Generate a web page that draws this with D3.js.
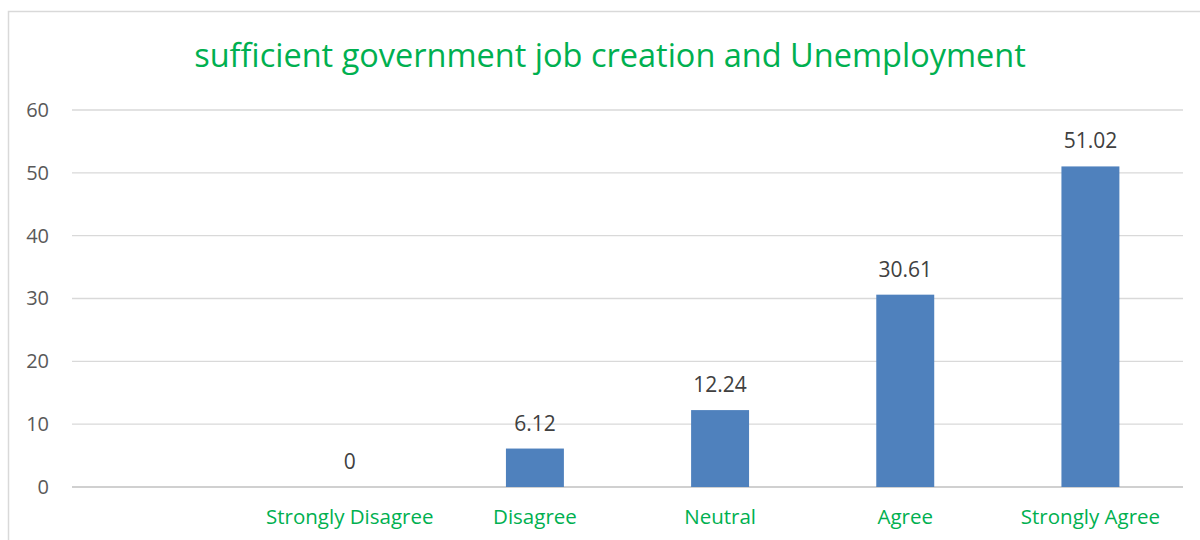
<!DOCTYPE html>
<html lang="en">
<head>
  <meta charset="UTF-8">
  <script src="https://cdn.jsdelivr.net/npm/d3@7"></script>
  <style>
    body { margin: 0; background: #fff; }
    text { font-family: "Open Sans", "Noto Sans", sans-serif; }
  </style>
</head>
<body>
<div id="container"></div>
<script>
// Chart data
const title = "sufficient government job creation and Unemployment";
const categories = ["", "Strongly Disagree", "Disagree", "Neutral", "Agree", "Strongly Agree"];
const values = [null, 0, 6.12, 12.24, 30.61, 51.02];
const yTicks = [0, 10, 20, 30, 40, 50, 60];

const width = 1200;
const height = 540;
const margin = {top: 110, right: 17, bottom: 53, left: 72};

const svg = d3.create("svg")
    .attr("width", width)
    .attr("height", height);

// outer chart border
svg.append("rect")
    .attr("x", 8.5)
    .attr("y", 11.5)
    .attr("width", 1200)
    .attr("height", 540)
    .attr("fill", "#fff")
    .attr("stroke", "#d9d9d9")
    .attr("stroke-width", 1.5);

const x = d3.scaleBand()
    .domain(categories)
    .range([margin.left, width - margin.right])
    .paddingInner(0.687)
    .paddingOuter(0.3435);

const y = d3.scaleLinear()
    .domain([0, 60])
    .range([height - margin.bottom, margin.top]);

// gridlines
svg.append("g")
  .selectAll("line")
  .data(yTicks)
  .join("line")
    .attr("x1", margin.left)
    .attr("x2", width - margin.right)
    .attr("y1", d => y(d))
    .attr("y2", d => y(d))
    .attr("stroke", d => d === 0 ? "#d0d0d0" : "#d9d9d9")
    .attr("stroke-width", d => d === 0 ? 2.2 : 1.4);

// y axis labels
const yAxis = svg.append("g")
    .attr("transform", `translate(${margin.left},0)`)
    .call(d3.axisLeft(y).tickValues(yTicks).tickSize(0).tickPadding(23));
yAxis.select(".domain").remove();
yAxis.selectAll("text")
    .attr("fill", "#595959")
    .style("font-size", "20px")
    .style("font-family", "'Open Sans', sans-serif");

// x axis labels
const xAxis = svg.append("g")
    .attr("transform", `translate(0,${y(0)})`)
    .call(d3.axisBottom(x).tickSize(0).tickPadding(22));
xAxis.select(".domain").remove();
xAxis.selectAll("text")
    .attr("fill", "#00b050")
    .style("font-size", "20.5px")
    .style("font-family", "'Open Sans', sans-serif");

const rows = categories.map((c, i) => ({c, v: values[i]})).filter(d => d.v !== null);

// bars
svg.append("g")
  .selectAll("rect")
  .data(rows)
  .join("rect")
    .attr("x", d => x(d.c))
    .attr("width", x.bandwidth())
    .attr("y", d => y(d.v))
    .attr("height", d => y(0) - y(d.v))
    .attr("fill", "#4f81bd");

// data labels
svg.append("g")
  .selectAll("text")
  .data(rows)
  .join("text")
    .attr("x", d => x(d.c) + x.bandwidth() / 2)
    .attr("y", d => y(d.v) - 18)
    .attr("text-anchor", "middle")
    .attr("fill", "#404040")
    .style("font-size", "21px")
    .text(d => d.v);

// title
svg.append("text")
    .attr("x", 610)
    .attr("y", 67)
    .attr("text-anchor", "middle")
    .attr("fill", "#00b050")
    .style("font-size", "32.5px")
    .text(title);

document.getElementById("container").appendChild(svg.node());
</script>
</body>
</html>
